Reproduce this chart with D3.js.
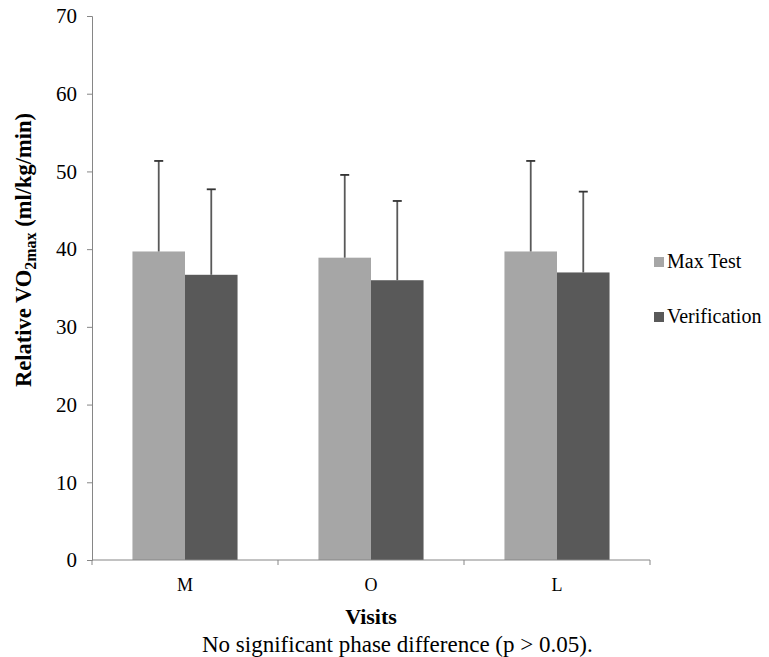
<!DOCTYPE html>
<html lang="en">
  <head>
    <meta charset="UTF-8" />
    <title>Relative VO2max by visit</title>
    <style>
      body { margin: 0; background: #fff; }
      svg { font-family: "Liberation Serif", "Times New Roman", serif; }
    </style>
  </head>
  <body>
    <script src="https://cdn.jsdelivr.net/npm/d3@7"></script>
    <script>
      const visits = ["M", "O", "L"];
      const seriesNames = ["Max Test", "Verification"];
      const maxTest = [39.7, 38.9, 39.7];
      const maxTestSD = [11.65, 10.65, 11.65];
      const verification = [36.7, 36.0, 37.0];
      const verificationSD = [11.0, 10.2, 10.4];
      const yTicks = [0, 10, 20, 30, 40, 50, 60, 70];

      const width = 769;
      const height = 657;
      const margin = { top: 16, right: 119, bottom: 97, left: 92 };
      const colors = ["#a6a6a6", "#595959"];
      const serif = "'Liberation Serif', 'Times New Roman', serif";

      const rows = visits.map((v, i) => ({
        visit: v,
        values: [
          { key: seriesNames[0], mean: maxTest[i], sd: maxTestSD[i] },
          { key: seriesNames[1], mean: verification[i], sd: verificationSD[i] }
        ]
      }));

      const svg = d3.select("body")
        .append("svg")
        .attr("width", width)
        .attr("height", height)
        .attr("font-family", serif);

      const x = d3.scaleBand()
        .domain(visits)
        .range([margin.left, width - margin.right])
        .paddingInner(0)
        .paddingOuter(0);

      // two bars per visit, about 40px of white on each side
      const xInner = d3.scaleBand()
        .domain(seriesNames)
        .range([0, x.bandwidth()])
        .paddingOuter(0.77);

      const y = d3.scaleLinear()
        .domain([0, 70])
        .range([height - margin.bottom, margin.top]);

      const color = d3.scaleOrdinal().domain(seriesNames).range(colors);

      // y axis
      const yAxis = svg.append("g")
        .attr("transform", "translate(" + margin.left + ",0)")
        .call(d3.axisLeft(y).tickValues(yTicks).tickSize(5).tickPadding(10))
        .attr("font-family", serif);
      yAxis.select(".domain").attr("stroke", "#868686");
      yAxis.selectAll(".tick line").attr("stroke", "#868686");
      yAxis.selectAll(".tick text")
        .attr("fill", "#000")
        .attr("font-size", 21);

      // bars
      const groups = svg.selectAll(".grp")
        .data(rows)
        .enter()
        .append("g")
        .attr("class", "grp")
        .attr("transform", d => "translate(" + x(d.visit) + ",0)");

      groups.selectAll("rect")
        .data(d => d.values)
        .enter()
        .append("rect")
        .attr("x", d => xInner(d.key))
        .attr("width", xInner.bandwidth())
        .attr("y", d => y(d.mean))
        .attr("height", d => y(0) - y(d.mean))
        .attr("fill", d => color(d.key));

      // error bars (upper only)
      const err = groups.selectAll(".err")
        .data(d => d.values)
        .enter()
        .append("g")
        .attr("class", "err")
        .attr("stroke", "#595959")
        .attr("stroke-width", 1.8);
      err.append("line")
        .attr("x1", d => xInner(d.key) + xInner.bandwidth() / 2)
        .attr("x2", d => xInner(d.key) + xInner.bandwidth() / 2)
        .attr("y1", d => y(d.mean))
        .attr("y2", d => y(d.mean + d.sd));
      err.append("line")
        .attr("x1", d => xInner(d.key) + xInner.bandwidth() / 2 - 4.5)
        .attr("x2", d => xInner(d.key) + xInner.bandwidth() / 2 + 4.5)
        .attr("y1", d => y(d.mean + d.sd))
        .attr("y2", d => y(d.mean + d.sd))
        .attr("stroke", "#333");

      // x axis
      const xAxisG = svg.append("g")
        .attr("transform", "translate(0," + y(0) + ")");
      xAxisG.append("line")
        .attr("x1", margin.left)
        .attr("x2", width - margin.right)
        .attr("stroke", "#868686");
      const bounds = visits.map(v => x(v)).concat([x(visits[visits.length - 1]) + x.bandwidth()]);
      xAxisG.selectAll(".xt")
        .data(bounds)
        .enter()
        .append("line")
        .attr("x1", d => d)
        .attr("x2", d => d)
        .attr("y1", 0)
        .attr("y2", 5)
        .attr("stroke", "#868686");
      xAxisG.selectAll(".xl")
        .data(visits)
        .enter()
        .append("text")
        .attr("x", d => x(d) + x.bandwidth() / 2)
        .attr("y", 31)
        .attr("text-anchor", "middle")
        .attr("font-size", 18)
        .text(d => d);

      // titles
      svg.append("text")
        .attr("x", (margin.left + width - margin.right) / 2)
        .attr("y", 624)
        .attr("text-anchor", "middle")
        .attr("font-size", 22)
        .attr("font-weight", "bold")
        .text("Visits");

      svg.append("text")
        .attr("x", 202)
        .attr("y", 652)
        .attr("font-size", 23)
        .text("No significant phase difference (p > 0.05).");

      const yTitle = svg.append("text")
        .attr("transform", "translate(31,250) rotate(-90)")
        .attr("text-anchor", "middle")
        .attr("font-size", 22.5)
        .attr("font-weight", "bold");
      yTitle.append("tspan").text("Relative VO");
      yTitle.append("tspan").attr("dy", 5).attr("font-size", 16).text("2max");
      yTitle.append("tspan").attr("dy", -5).text(" (ml/kg/min)");

      // legend
      const legend = svg.append("g")
        .attr("transform", "translate(654,257)");
      const item = legend.selectAll(".li")
        .data(seriesNames)
        .enter()
        .append("g")
        .attr("transform", (d, i) => "translate(0," + i * 55 + ")");
      item.append("rect")
        .attr("width", 10)
        .attr("height", 10)
        .attr("fill", d => color(d));
      item.append("text")
        .attr("x", 13)
        .attr("y", 11)
        .attr("font-size", 20)
        .text(d => d);
    </script>
  </body>
</html>
